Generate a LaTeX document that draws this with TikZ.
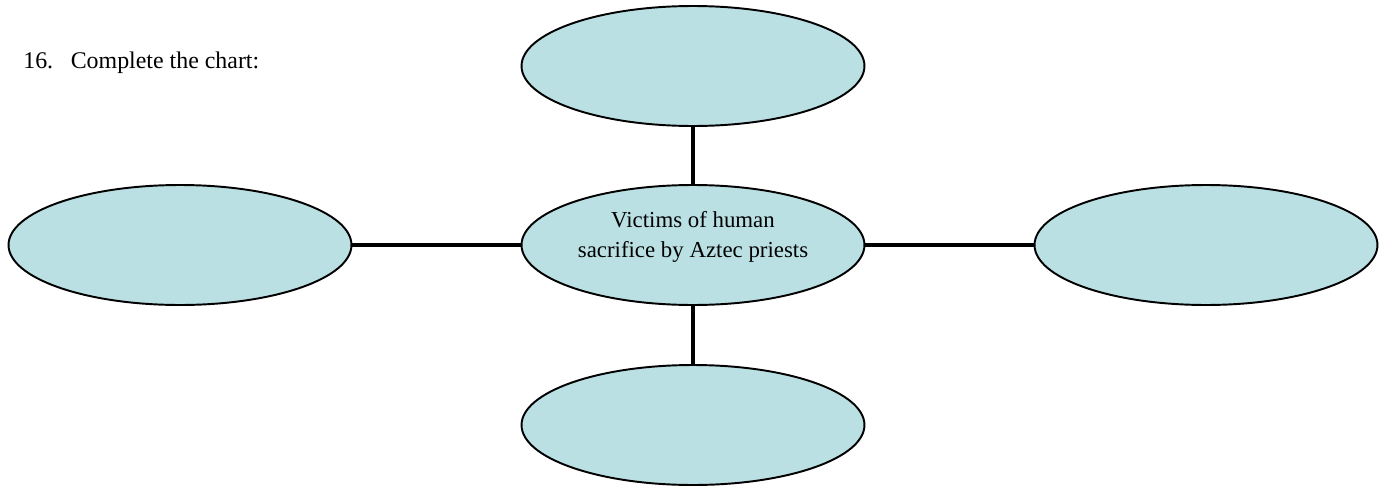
\documentclass[tikz,border=0pt]{standalone}
\usepackage{fontspec}
\setmainfont{Liberation Serif}
\usepackage{tikz}
\usetikzlibrary{shapes.geometric}

\definecolor{bubble}{RGB}{186,224,228}

\begin{document}
\begin{tikzpicture}[
    x=0.02cm, y=-0.02cm,
    blob/.style={draw, ellipse, line width=1.1pt, fill=bubble, minimum width=6.86cm, minimum height=2.4cm, inner sep=0pt},
    link/.style={line width=2.8pt},
    label/.style={font=\fontsize{13}{17}\selectfont, inner sep=0pt}
]
    \useasboundingbox (0,0) rectangle (1383,487);

    % Question
    \node[label, anchor=base west, font=\fontsize{13.6}{17}\selectfont] (question) at (23,68) {16.\hspace{10pt}Complete the chart:};

    % Bubbles (centre and the four around it)
    \node[blob] (hub) at (693,245) {};
    \node[blob] (top) at (693,66) {};
    \node[blob] (left) at (180,245) {};
    \node[blob] (right) at (1206,245) {};
    \node[blob] (bottom) at (693,425) {};

    \node[label, align=center] (hubtext) at (693,237) {Victims of human\\sacrifice by Aztec priests};

    % Spokes
    \foreach \b in {top, left, right, bottom} {
        \draw[link] (hub) -- (\b);
    }

\end{tikzpicture}
\end{document}
